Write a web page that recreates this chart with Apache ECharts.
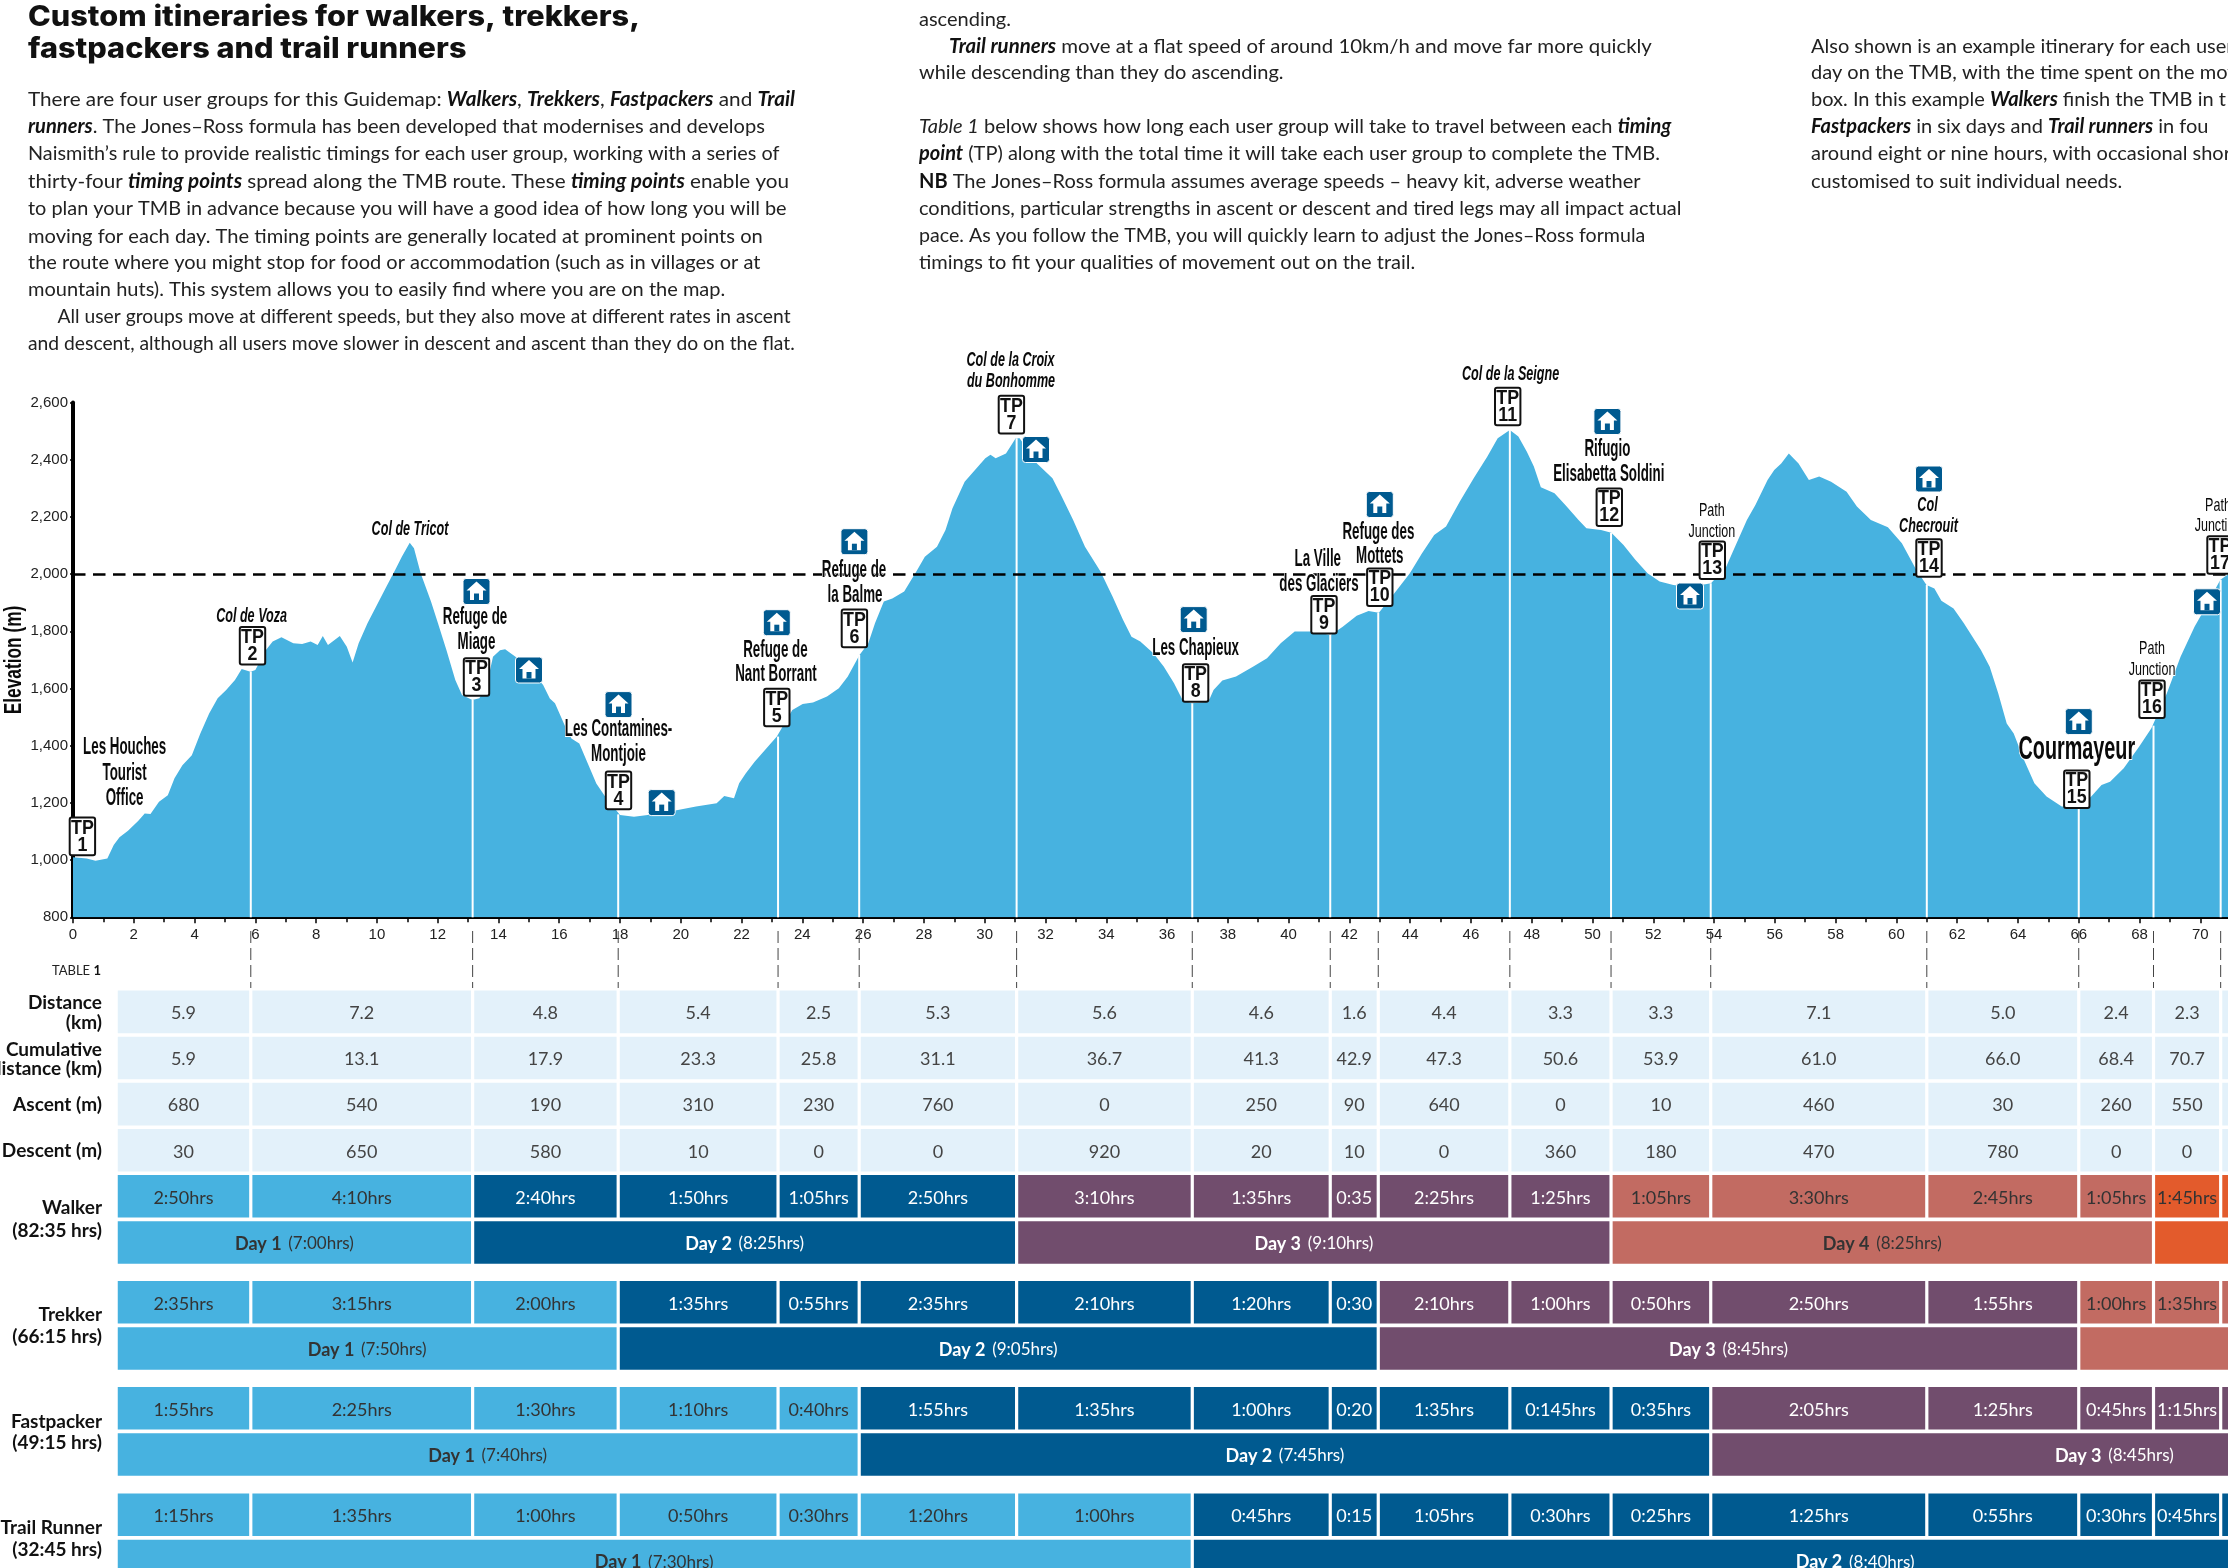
<!DOCTYPE html>
<html>
<head>
<meta charset="utf-8">
<script src="https://cdn.jsdelivr.net/npm/echarts@6/dist/echarts.min.js"></script>
<style>
html, body { margin: 0; padding: 0; background: #fff; }
#main { width: 2228px; height: 1568px; overflow: hidden; }
</style>
</head>
<body>
<div id="main"></div>
<script>
// 高程剖面 (km, m)
var profileKm = [0, 0.45, 0.74, 1.13, 1.34, 1.53, 1.81, 2.15, 2.36, 2.55, 2.83, 3.12, 3.34, 3.6, 3.91, 4.19, 4.48, 4.76, 5.04, 5.33, 5.55, 5.84, 6, 6.35, 6.57, 6.86, 7.25, 7.54, 7.82, 8.05, 8.22, 8.39, 8.78, 9.01, 9.2, 9.4, 9.69, 10.03, 10.31, 10.6, 10.82, 11.08, 11.22, 11.44, 11.78, 12.01, 12.29, 12.58, 12.8, 13.14, 13.37, 13.6, 13.82, 14.05, 14.22, 14.56, 14.96, 15.47, 15.69, 15.86, 16.2, 16.4, 16.66, 16.94, 17.22, 17.51, 18, 18.46, 18.91, 19.82, 20.5, 21.18, 21.43, 21.75, 21.92, 22.14, 22.43, 22.77, 23.16, 23.67, 24.01, 24.35, 24.81, 25.2, 25.49, 25.88, 26.17, 26.39, 26.68, 26.96, 27.35, 27.75, 28.03, 28.43, 28.71, 28.94, 29.34, 29.68, 30.02, 30.19, 30.36, 30.7, 31.02, 31.15, 31.72, 32.23, 32.51, 32.91, 33.3, 33.81, 34.21, 34.55, 34.83, 35.12, 35.55, 35.89, 36.23, 36.51, 36.8, 37.36, 37.53, 37.82, 38.27, 38.84, 39.29, 39.74, 40.2, 40.76, 41.39, 41.78, 42.24, 42.63, 42.97, 43.48, 43.99, 44.39, 44.79, 45.18, 45.63, 46.09, 46.54, 46.88, 47.28, 47.56, 47.84, 48.07, 48.3, 48.75, 49.15, 49.54, 49.8, 50.28, 50.62, 51.02, 51.41, 51.81, 52.21, 52.66, 53.2, 53.9, 54.4, 54.62, 55.08, 55.36, 55.76, 55.98, 56.21, 56.46, 56.78, 57.12, 57.46, 57.85, 58.36, 58.7, 59.16, 59.72, 60.18, 60.63, 60.99, 61.25, 61.48, 61.88, 62.22, 62.78, 63.07, 63.35, 63.63, 63.86, 64.2, 64.54, 64.94, 65.44, 66.01, 66.41, 66.75, 67.03, 67.48, 67.99, 68.39, 68.9, 69.35, 69.81, 70.03, 70.66, 71];
var profileElev = [1010, 1006, 998, 1006, 1053, 1080, 1103, 1138, 1163, 1161, 1204, 1227, 1286, 1332, 1367, 1443, 1513, 1566, 1595, 1630, 1668, 1659, 1665, 1735, 1764, 1779, 1758, 1756, 1764, 1752, 1784, 1752, 1784, 1746, 1691, 1758, 1828, 1898, 1956, 2014, 2061, 2110, 2090, 2003, 1904, 1828, 1734, 1630, 1577, 1560, 1566, 1606, 1711, 1734, 1737, 1711, 1676, 1612, 1565, 1548, 1466, 1425, 1408, 1338, 1268, 1222, 1158, 1152, 1158, 1173, 1187, 1199, 1224, 1216, 1269, 1304, 1344, 1385, 1432, 1525, 1546, 1551, 1572, 1601, 1641, 1717, 1758, 1828, 1904, 1915, 1939, 2009, 2061, 2096, 2154, 2230, 2323, 2364, 2405, 2417, 2405, 2422, 2475, 2475, 2387, 2335, 2277, 2189, 2096, 2009, 1921, 1840, 1781, 1764, 1723, 1677, 1618, 1560, 1548, 1554, 1595, 1628, 1642, 1677, 1706, 1758, 1799, 1799, 1787, 1816, 1854, 1871, 1865, 1933, 2003, 2073, 2137, 2166, 2253, 2335, 2411, 2475, 2504, 2481, 2428, 2376, 2304, 2283, 2236, 2189, 2160, 2154, 2145, 2102, 2050, 2003, 1974, 1962, 1955, 1968, 2026, 2079, 2189, 2242, 2329, 2364, 2387, 2422, 2387, 2329, 2341, 2323, 2288, 2236, 2189, 2164, 2108, 2020, 1962, 1950, 1907, 1880, 1828, 1735, 1676, 1583, 1478, 1443, 1350, 1269, 1222, 1187, 1187, 1222, 1263, 1274, 1321, 1397, 1461, 1583, 1711, 1816, 1857, 1980, 2005];
var referenceElev = 2000;

// timing points
var tpKm = [0, 5.85, 13.15, 17.94, 23.2, 25.87, 31.05, 36.83, 41.37, 42.95, 47.28, 50.61, 53.89, 61, 66, 68.46, 70.67];
var tpElev = [1010, 1659, 1560, 1160, 1432, 1717, 2475, 1548, 1787, 1865, 2504, 2145, 1968, 1962, 1187, 1470, 1980];

// 表格
var tableStartKm = 1.42;
var tableEndKm = 80.45;
var distance = ['5.9', '7.2', '4.8', '5.4', '2.5', '5.3', '5.6', '4.6', '1.6', '4.4', '3.3', '3.3', '7.1', '5.0', '2.4', '2.3'];
var cumulative = ['5.9', '13.1', '17.9', '23.3', '25.8', '31.1', '36.7', '41.3', '42.9', '47.3', '50.6', '53.9', '61.0', '66.0', '68.4', '70.7'];
var ascent = ['680', '540', '190', '310', '230', '760', '0', '250', '90', '640', '0', '10', '460', '30', '260', '550'];
var descent = ['30', '650', '580', '10', '0', '0', '920', '20', '10', '0', '360', '180', '470', '780', '0', '0'];
var walkerTimes = ['2:50hrs', '4:10hrs', '2:40hrs', '1:50hrs', '1:05hrs', '2:50hrs', '3:10hrs', '1:35hrs', '0:35', '2:25hrs', '1:25hrs', '1:05hrs', '3:30hrs', '2:45hrs', '1:05hrs', '1:45hrs'];
var trekkerTimes = ['2:35hrs', '3:15hrs', '2:00hrs', '1:35hrs', '0:55hrs', '2:35hrs', '2:10hrs', '1:20hrs', '0:30', '2:10hrs', '1:00hrs', '0:50hrs', '2:50hrs', '1:55hrs', '1:00hrs', '1:35hrs'];
var fastpackerTimes = ['1:55hrs', '2:25hrs', '1:30hrs', '1:10hrs', '0:40hrs', '1:55hrs', '1:35hrs', '1:00hrs', '0:20', '1:35hrs', '0:145hrs', '0:35hrs', '2:05hrs', '1:25hrs', '0:45hrs', '1:15hrs'];
var trailTimes = ['1:15hrs', '1:35hrs', '1:00hrs', '0:50hrs', '0:30hrs', '1:20hrs', '1:00hrs', '0:45hrs', '0:15', '1:05hrs', '0:30hrs', '0:25hrs', '1:25hrs', '0:55hrs', '0:30hrs', '0:45hrs'];
var walkerDayEnds = [2, 6, 11, 15, 17];
var walkerDayHours = ['7:00', '8:25', '9:10', '8:25', ''];
var trekkerDayEnds = [3, 9, 14, 17];
var trekkerDayHours = ['7:50', '9:05', '8:45', ''];
var fastpackerDayEnds = [5, 12, 17];
var fastpackerDayHours = ['7:40', '7:45', '8:45'];
var trailDayEnds = [7, 17];
var trailDayHours = ['7:30', '8:40'];

var COLORS = ['#47b2e0', '#005a90', '#714d6d', '#c26b62', '#e35b2c'];
var TEXT_ON = ['#333', '#fff', '#fff', '#333', '#333'];
var PALE = '#e3f1fa';
var BODY = 'Lato, sans-serif';
var COND = '"Liberation Sans Narrow", "Liberation Sans", sans-serif';

var colEdges = [tableStartKm].concat(tpKm.slice(1)).concat([tableEndKm]);
var cells = [];

function addInfoRow(values, top) {
    for (var i = 0; i < colEdges.length - 1; i++) {
        cells.push({ x0: colEdges[i], x1: colEdges[i + 1], top: top, fill: PALE, color: '#444', text: values[i] || '' });
    }
}

function addUserRows(times, dayEnds, dayHours, top) {
    var start = 0;
    for (var d = 0; d < dayEnds.length; d++) {
        for (var i = start; i < dayEnds[d]; i++) {
            cells.push({ x0: colEdges[i], x1: colEdges[i + 1], top: top, fill: COLORS[d], color: TEXT_ON[d], text: times[i] || '' });
        }
        cells.push({
            x0: colEdges[start], x1: colEdges[dayEnds[d]], top: top + 46.2, fill: COLORS[d], color: TEXT_ON[d],
            day: dayHours[d] ? 'Day ' + (d + 1) : '', hours: dayHours[d]
        });
        start = dayEnds[d];
    }
}

addInfoRow(distance, 990.6);
addInfoRow(cumulative, 1036.7);
addInfoRow(ascent, 1082.8);
addInfoRow(descent, 1129);
addUserRows(walkerTimes, walkerDayEnds, walkerDayHours, 1175);
addUserRows(trekkerTimes, trekkerDayEnds, trekkerDayHours, 1281);
addUserRows(fastpackerTimes, fastpackerDayEnds, fastpackerDayHours, 1387);
addUserRows(trailTimes, trailDayEnds, trailDayHours, 1493.5);

// 正文: x, y, text, 横向缩放
var bodyLines = [
    [28, 100, 'There are four user groups for this Guidemap: {b|Walkers}, {b|Trekkers}, {b|Fastpackers} and {b|Trail}', 1.035],
    [28, 127, '{b|runners}. The Jones–Ross formula has been developed that modernises and develops', 1.004],
    [28, 154, 'Naismith’s rule to provide realistic timings for each user group, working with a series of', 0.99],
    [28, 182, 'thirty-four {b|timing points} spread along the TMB route. These {b|timing points} enable you', 1.033],
    [28, 209, 'to plan your TMB in advance because you will have a good idea of how long you will be', 0.994],
    [28, 237, 'moving for each day. The timing points are generally located at prominent points on', 1.006],
    [28, 263, 'the route where you might stop for food or accommodation (such as in villages or at', 1],
    [28, 290, 'mountain huts). This system allows you to easily find where you are on the map.', 1],
    [57.5, 317, 'All user groups move at different speeds, but they also move at different rates in ascent', 0.962],
    [28, 344, 'and descent, although all users move slower in descent and ascent than they do on the flat.', 0.964],
    [919, 20, 'ascending.', 1],
    [949, 47, '{b|Trail runners} move at a flat speed of around 10km/h and move far more quickly', 1.02],
    [919, 73, 'while descending than they do ascending.', 1],
    [919, 127, '{i|Table 1} below shows how long each user group will take to travel between each {b|timing}', 1],
    [919, 154, '{b|point} (TP) along with the total time it will take each user group to complete the TMB.', 1],
    [919, 182, '{n|NB} The Jones–Ross formula assumes average speeds – heavy kit, adverse weather', 1],
    [919, 209, 'conditions, particular strengths in ascent or descent and tired legs may all impact actual', 1],
    [919, 236, 'pace. As you follow the TMB, you will quickly learn to adjust the Jones–Ross formula', 0.98],
    [919, 263, 'timings to fit your qualities of movement out on the trail.', 1],
    [1811, 47, 'Also shown is an example itinerary for each user', 1],
    [1811, 73, 'day on the TMB, with the time spent on the mov', 1],
    [1811, 100, 'box. In this example {b|Walkers} finish the TMB in t', 1],
    [1811, 127, '{b|Fastpackers} in six days and {b|Trail runners} in fou', 1],
    [1811, 154, 'around eight or nine hours, with occasional shor', 1],
    [1811, 182, 'customised to suit individual needs.', 1]
];

// 地名标注: text, x, y, style
var placeLabels = [
    ['Les Houches', 124.6, 748, 'b'], ['Tourist', 124.6, 774, 'b'], ['Office', 124.6, 799, 'b'],
    ['Col de Voza', 251.6, 616, 'i'], ['Col de Tricot', 410, 529, 'i'],
    ['Refuge de', 475, 618, 'b'], ['Miage', 476.5, 642.5, 'b'],
    ['Les Contamines-', 618.5, 730, 'b'], ['Montjoie', 618.5, 755, 'b'],
    ['Refuge de', 775.4, 650.4, 'b'], ['Nant Borrant', 776, 675, 'b'],
    ['Refuge de', 854, 570.5, 'b'], ['la Balme', 855, 596, 'b'],
    ['Col de la Croix', 1010.5, 360.6, 'i'], ['du Bonhomme', 1011, 381, 'i'],
    ['Les Chapieux', 1195.6, 648.4, 'b'],
    ['La Ville', 1317.8, 560, 'b'], ['des Glaciers', 1319, 584.4, 'b'],
    ['Refuge des', 1378.4, 532.6, 'b'], ['Mottets', 1379.8, 556.7, 'b'],
    ['Col de la Seigne', 1510.6, 374.4, 'i'],
    ['Rifugio', 1607.4, 450, 'b'], ['Elisabetta Soldini', 1608.8, 474.4, 'b'],
    ['Path', 1711.9, 511.2, 'n'], ['Junction', 1711.9, 531.4, 'n'],
    ['Col', 1927.5, 505.3, 'i'], ['Checrouit', 1928.5, 525.8, 'i'],
    ['Path', 2152, 649, 'n'], ['Junction', 2152, 669.4, 'n'],
    ['Path', 2218, 506, 'n'], ['Junction', 2218, 526, 'n']
];
var tpSignX = [82.4, 252.5, 476.5, 618.5, 776.8, 854.4, 1011.4, 1195.6, 1324, 1379.8, 1507.7, 1609.3, 1712.3, 1929, 2076.8, 2152, 2220];
var tpSignY = [836.4, 645.8, 677, 790.4, 707.5, 628.4, 414.6, 683, 614.7, 587.2, 406.5, 507.2, 560.2, 558, 789.2, 699.2, 555];
var houseX = [476.5, 529, 618.5, 661.7, 776.8, 854.4, 1036, 1193.7, 1379.8, 1607.4, 1690, 1929, 2078.8, 2207];
var houseY = [591.5, 670, 704.6, 802.6, 622.7, 541.7, 449.5, 619.6, 504.5, 421.5, 596, 479, 721.6, 601.8];

// 行标题: 行尾对齐
var rowLabels = [
    ['Distance', 1003], ['(km)', 1022.5], ['Cumulative', 1049.7], ['distance (km)', 1068.6],
    ['Ascent (m)', 1104.5], ['Descent (m)', 1151], ['Walker', 1208], ['(82:35 hrs)', 1231],
    ['Trekker', 1314.6], ['(66:15 hrs)', 1337], ['Fastpacker', 1421.8], ['(49:15 hrs)', 1443],
    ['Trail Runner', 1527.8], ['(32:45 hrs)', 1549.5]
];

function buildGraphic() {
    var els = [];
    var i;
    els.push({ type: 'text', x: 28, y: 18, scaleX: 1.095, style: { text: 'Custom itineraries for walkers, trekkers,', font: '800 28px Inter, sans-serif', fill: '#111', verticalAlign: 'middle' } });
    els.push({ type: 'text', x: 28, y: 50, scaleX: 1.095, style: { text: 'fastpackers and trail runners', font: '800 28px Inter, sans-serif', fill: '#111', verticalAlign: 'middle' } });
    for (i = 0; i < bodyLines.length; i++) {
        els.push({
            type: 'text', x: bodyLines[i][0], y: bodyLines[i][1], scaleX: bodyLines[i][3],
            style: {
                text: bodyLines[i][2], fontFamily: 'Lato, sans-serif', fontSize: 20, fill: '#222', verticalAlign: 'middle',
                rich: {
                    b: { fontFamily: 'Lato, sans-serif', fontSize: 20, fontWeight: 'bold', fontStyle: 'italic', fill: '#111' },
                    i: { fontFamily: 'Lato, sans-serif', fontSize: 20, fontStyle: 'italic', fill: '#222' },
                    n: { fontFamily: 'Lato, sans-serif', fontSize: 20, fontWeight: 'bold', fill: '#111' }
                }
            }
        });
    }
    for (i = 0; i < placeLabels.length; i++) {
        var p = placeLabels[i];
        var font = p[3] === 'b' ? 'bold 23px ' : (p[3] === 'i' ? 'italic bold 21px ' : '19px ');
        els.push({
            type: 'text', x: p[1], y: p[2], scaleX: p[3] === 'n' ? 0.66 : (p[3] === 'b' ? 0.58 : 0.6),
            style: { text: p[0], font: font + COND, fill: '#0a0a0a', align: 'center', verticalAlign: 'middle', stroke: '#fff', lineWidth: 2 }
        });
    }
    els.push({
        type: 'text', x: 2076.8, y: 750, scaleX: 0.6,
        style: { text: 'Courmayeur', font: 'bold 33px ' + COND, fill: '#0a0a0a', align: 'center', verticalAlign: 'middle', stroke: '#fff', lineWidth: 2 }
    });
    els.push({
        type: 'text', x: 14, y: 660, rotation: Math.PI / 2, scaleX: 0.72,
        style: { text: 'Elevation (m)', font: 'bold 24px ' + COND, fill: '#0a0a0a', align: 'center', verticalAlign: 'middle' }
    });
    for (i = 0; i < tpSignX.length; i++) {
        els.push({
            type: 'group', x: tpSignX[i], y: tpSignY[i],
            children: [
                { type: 'rect', shape: { x: -12.7, y: -18.8, width: 25.4, height: 37.6, r: 2 }, style: { fill: '#fff', stroke: '#111', lineWidth: 2 } },
                { type: 'text', x: 0, y: -8.5, scaleX: 0.85, style: { text: 'TP', font: 'bold 21px ' + COND, fill: '#111', align: 'center', verticalAlign: 'middle' } },
                { type: 'text', x: 0, y: 8.5, scaleX: 0.85, style: { text: String(i + 1), font: 'bold 21px ' + COND, fill: '#111', align: 'center', verticalAlign: 'middle' } }
            ]
        });
    }
    for (i = 0; i < houseX.length; i++) {
        els.push({
            type: 'group', x: houseX[i], y: houseY[i],
            children: [
                { type: 'rect', shape: { x: -13.5, y: -13, width: 27, height: 26, r: 3 }, style: { fill: '#005a90', stroke: '#fff', lineWidth: 1 } },
                { type: 'polygon', shape: { points: [[0, -10], [10, -1], [6.5, -1], [6.5, 8.5], [-6.5, 8.5], [-6.5, -1], [-10, -1]] }, style: { fill: '#fff' } },
                { type: 'rect', shape: { x: -2.5, y: 2, width: 5, height: 6.5 }, style: { fill: '#005a90' } }
            ]
        });
    }
    for (i = 0; i < rowLabels.length; i++) {
        els.push({
            type: 'text', x: 102, y: rowLabels[i][1],
            style: { text: rowLabels[i][0], font: 'bold 19px ' + BODY, fill: '#111', align: 'right', verticalAlign: 'middle' }
        });
    }
    els.push({
        type: 'text', x: 101, y: 970.5,
        style: {
            text: 'TABLE {t|1}', font: '13px ' + BODY, fill: '#222', align: 'right', verticalAlign: 'middle',
            rich: { t: { fontFamily: 'Lato, sans-serif', fontSize: 13, fontWeight: 'bold', fill: '#111' } }
        }
    });
    return raise(els);
}

// 标注放在 series 之上
function raise(list) {
    for (var i = 0; i < list.length; i++) {
        list[i].z = 100;
        if (list[i].children) {
            raise(list[i].children);
        }
    }
    return list;
}

function renderTpLine(params, api) {
    var km = api.value(0);
    var top = api.coord([km, api.value(1)]);
    var bottom = api.coord([km, 800]);
    return { type: 'line', shape: { x1: top[0], y1: top[1], x2: bottom[0], y2: bottom[1] }, style: { stroke: '#fff', lineWidth: 2 } };
}

function renderDash(params, api) {
    var a = api.coord([api.value(0), 931]);
    var b = api.coord([api.value(0), 988]);
    return { type: 'line', shape: { x1: a[0], y1: a[1], x2: b[0], y2: b[1] }, style: { stroke: '#444', lineWidth: 1, lineDash: [12, 5] } };
}

function renderCell(params, api) {
    var c = cells[params.dataIndex];
    var a = api.coord([c.x0, c.top]);
    var b = api.coord([c.x1, c.top + 42.6]);
    var rect = { type: 'rect', shape: { x: a[0] + 1.6, y: a[1], width: b[0] - a[0] - 3.2, height: b[1] - a[1] }, style: { fill: c.fill } };
    var cx = (a[0] + b[0]) / 2;
    var cy = (a[1] + b[1]) / 2 + 1.5;
    var text;
    if (c.day) {
        text = {
            type: 'text', x: cx, y: cy,
            style: {
                text: '{d|' + c.day + '}  {h|(' + c.hours + 'hrs)}', align: 'center', verticalAlign: 'middle',
                rich: {
                    d: { fontFamily: 'Lato, sans-serif', fontSize: 18, fontWeight: 'bold', fill: c.color },
                    h: { fontFamily: 'Lato, sans-serif', fontSize: 17, fill: c.color }
                }
            }
        };
    } else {
        text = { type: 'text', x: cx, y: cy, style: { text: c.text || '', font: '18px ' + BODY, fill: c.color, align: 'center', verticalAlign: 'middle' } };
    }
    return { type: 'group', children: [rect, text] };
}

var profile = [];
for (var k = 0; k < profileKm.length; k++) {
    profile.push([profileKm[k], profileElev[k]]);
}
var tpData = [];
for (var n = 1; n < tpKm.length; n++) {
    tpData.push([tpKm[n], tpElev[n]]);
}

var option = {
    animation: false,
    backgroundColor: '#fff',
    grid: [
        { left: 73, top: 402.5, width: 2157.7, height: 514.8, outerBoundsMode: 'none' },
        { left: 73, top: 920, width: 2157.7, height: 648, outerBoundsMode: 'none' }
    ],
    xAxis: [{
        type: 'value', gridIndex: 0, min: 0, max: 71, interval: 2,
        axisLine: { onZero: false, lineStyle: { color: '#000', width: 3 } },
        axisTick: { length: 6, lineStyle: { color: '#000', width: 1.5 } },
        minorTick: { show: true, splitNumber: 2, length: 5, lineStyle: { color: '#000', width: 1.5 } },
        splitLine: { show: false },
        axisLabel: { showMaxLabel: false, margin: 10, color: '#222', fontFamily: COND, fontSize: 15 }
    }, {
        type: 'value', gridIndex: 1, min: 0, max: 71, show: false, splitLine: { show: false }
    }],
    yAxis: [{
        type: 'value', gridIndex: 0, min: 800, max: 2600, interval: 200,
        axisLine: { show: true, lineStyle: { color: '#000', width: 4 } },
        axisTick: { show: true, length: 3, lineStyle: { color: '#000', width: 1.5 } },
        splitLine: { show: false },
        axisLabel: {
            margin: 5, color: '#222', fontFamily: COND, fontSize: 15,
            formatter: function(v) { return v >= 1000 ? Math.floor(v / 1000) + ',' + ('00' + v % 1000).slice(-3) : String(v); }
        }
    }, {
        type: 'value', gridIndex: 1, min: 920, max: 1568, inverse: true, show: false, splitLine: { show: false }
    }],
    graphic: { elements: buildGraphic() },
    series: [{
        type: 'line', xAxisIndex: 0, yAxisIndex: 0, data: profile, symbol: 'none', silent: true,
        lineStyle: { width: 0 }, areaStyle: { color: '#47b2e0', opacity: 1 }, z: 2,
        markLine: {
            silent: true, symbol: 'none', label: { show: false }, z: 4,
            lineStyle: { color: '#000', type: [12.5, 7.5], width: 2.5 },
            data: [{ yAxis: referenceElev }]
        }
    }, {
        type: 'custom', xAxisIndex: 0, yAxisIndex: 0, data: tpData, renderItem: renderTpLine, silent: true, z: 3
    }, {
        type: 'custom', xAxisIndex: 1, yAxisIndex: 1, data: tpData, renderItem: renderDash, silent: true, z: 3
    }, {
        type: 'custom', xAxisIndex: 1, yAxisIndex: 1, clip: true, silent: true, z: 3,
        data: cells.map(function(c) { return [c.x0, c.top, c.x1]; }), renderItem: renderCell
    }]
};

var chart = echarts.init(document.getElementById('main'));
chart.setOption(option);
</script>
</body>
</html>
